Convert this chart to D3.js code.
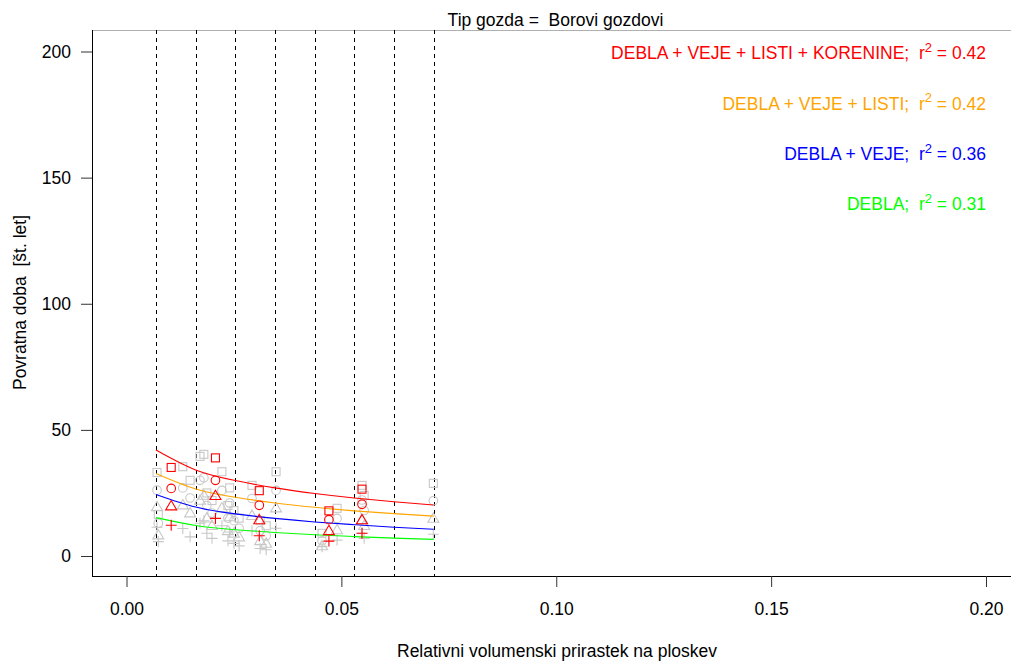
<!DOCTYPE html>
<html>
<head>
<meta charset="utf-8">
<script src="https://cdn.jsdelivr.net/npm/d3@7"></script>
<style>
  html, body { margin: 0; padding: 0; background: #fff; }
  svg { display: block; font-family: "Liberation Sans", Arial, sans-serif; }
</style>
</head>
<body>
<svg id="chart" width="1011" height="664"></svg>
<script>
// Class boundaries (dashed verticals) on relative volume increment
const classBounds = [0.00686, 0.01609, 0.02532, 0.03455, 0.04378, 0.05301, 0.06224, 0.07147];

// Fitted return-period curves sampled at the class boundaries
const fitTotal = [42.0, 34.1, 29.9, 27.0, 24.8, 23.0, 21.5, 20.2];   // debla + veje + listi + korenine
const fitDVL   = [32.7, 26.6, 23.3, 21.0, 19.3, 17.9, 16.8, 15.8];   // debla + veje + listi
const fitDV    = [24.4, 19.4, 16.7, 14.9, 13.5, 12.4, 11.4, 10.6];   // debla + veje
const fitD     = [15.2, 12.1, 10.4,  9.3,  8.4,  7.7,  7.1,  6.6];   // debla

// Class means (red symbols)
const meanX     = [0.0104, 0.0207, 0.0309, 0.0471, 0.0548];
const meanTotal = [35.1, 38.9, 25.9, 17.9, 26.5];
const meanDVL   = [26.8, 30.0, 20.1, 14.4, 20.5];
const meanDV    = [19.8, 23.9, 14.3, 10.0, 14.3];
const meanD     = [12.2, 14.9,  8.0,  5.9,  9.0];

// Individual stands (grey symbols)
const obsX     = [0.0071, 0.0074, 0.0131, 0.0148, 0.0171, 0.0180, 0.0187, 0.0199, 0.0222, 0.0236, 0.0250, 0.0292, 0.0311, 0.0325, 0.0348, 0.0455, 0.0490, 0.0548, 0.0553, 0.0714, 0.0240, 0.0262];
const obsTotal = [33.1, 16.5, 35.4, 30.0, 39.5, 40.3, 25.0, 22.0, 33.4, 20.0, 18.0, 28.0, 14.0, 12.0, 33.4,  9.0, 18.9, 28.0, 24.0, 28.8, 27.0, 15.0];
const obsDVL   = [26.1, 13.0, 27.0, 23.0, 30.0, 31.0, 20.0, 17.0, 26.0, 15.0, 14.0, 22.8, 10.0,  8.0, 26.0,  6.0, 14.9, 22.2, 18.0, 21.9, 21.0, 11.0];
const obsDV    = [19.5,  8.3, 20.2, 17.0, 22.0, 24.0, 15.0, 12.0, 19.0, 10.0,  9.0, 16.0,  6.0,  5.0, 19.0,  4.0, 10.3, 14.3, 12.0, 14.9, 15.5,  7.5];
const obsD     = [11.4,  5.7, 10.9,  7.6, 13.0, 14.0,  9.0,  7.0, 12.0,  6.0,  5.0, 10.0,  3.0,  2.5, 11.0,  3.7,  6.3,  9.0,  7.0,  8.6,  9.5,  4.0];

const xTicks = [0.00, 0.05, 0.10, 0.15, 0.20];
const yTicks = [0, 50, 100, 150, 200];

const legendLabels = ["DEBLA + VEJE + LISTI + KORENINE;", "DEBLA + VEJE + LISTI;", "DEBLA + VEJE;", "DEBLA;"];
const legendR2     = ["0.42", "0.42", "0.36", "0.31"];
const seriesColors = ["#ff0000", "#ffa500", "#0000ff", "#00ff00"];

const FONT = 17.5;
const svg = d3.select("#chart");
const panel = { left: 92, right: 1011, top: 30, bottom: 576 };

const x = d3.scaleLinear().domain([0, 0.2]).range([126.5, 986]);
const y = d3.scaleLinear().domain([0, 200]).range([556, 51.5]);

// Panel frame: grey top, black left and bottom
svg.append("line").attr("x1", panel.left).attr("x2", panel.right)
  .attr("y1", panel.top + 0.5).attr("y2", panel.top + 0.5)
  .attr("stroke", "#b0b0b0").attr("stroke-width", 1);
svg.append("line").attr("x1", panel.left + 0.5).attr("x2", panel.left + 0.5)
  .attr("y1", panel.top).attr("y2", panel.bottom)
  .attr("stroke", "#000").attr("stroke-width", 1);
svg.append("line").attr("x1", panel.left).attr("x2", panel.right)
  .attr("y1", panel.bottom + 0.5).attr("y2", panel.bottom + 0.5)
  .attr("stroke", "#000").attr("stroke-width", 1);

// Axes
const yAxis = svg.append("g").attr("transform", `translate(${panel.left},0)`)
  .call(d3.axisLeft(y).tickValues(yTicks).tickSize(11).tickPadding(10).tickSizeOuter(0).tickFormat(d3.format("d")));
const xAxis = svg.append("g").attr("transform", `translate(0,${panel.bottom})`)
  .call(d3.axisBottom(x).tickValues(xTicks).tickSize(11).tickPadding(15.5).tickSizeOuter(0).tickFormat(d3.format(".2f")));
[xAxis, yAxis].forEach(a => {
  a.select(".domain").remove();
  a.selectAll("line").attr("stroke", "#333");
  a.selectAll("text").attr("font-size", FONT).attr("fill", "#000")
    .attr("font-family", '"Liberation Sans", Arial, sans-serif');
});

// Class boundaries
svg.append("g").selectAll("line").data(classBounds).join("line")
  .attr("x1", d => Math.round(x(d)) + 0.5).attr("x2", d => Math.round(x(d)) + 0.5)
  .attr("y1", panel.top).attr("y2", panel.bottom)
  .attr("stroke", "#000").attr("stroke-width", 1).attr("stroke-dasharray", "4,4");

// Symbol drawing helpers (square, circle, triangle, plus)
function drawSymbols(g, xs, ys, shape, color) {
  const sel = g.append("g").attr("fill", "none").attr("stroke", color).attr("stroke-width", 1.1);
  xs.forEach((xv, i) => {
    const cx = x(xv), cy = y(ys[i]);
    if (shape === "square") {
      sel.append("rect").attr("x", cx - 4).attr("y", cy - 4).attr("width", 8).attr("height", 8);
    } else if (shape === "circle") {
      sel.append("circle").attr("cx", cx).attr("cy", cy).attr("r", 4.3);
    } else if (shape === "triangle") {
      sel.append("path").attr("d", `M${cx},${cy - 5.5}L${cx + 5.5},${cy + 3.8}L${cx - 5.5},${cy + 3.8}Z`);
    } else {
      sel.append("path").attr("d", `M${cx - 5.5},${cy}H${cx + 5.5}M${cx},${cy - 5.5}V${cy + 5.5}`);
    }
  });
}

const grey = "#c8c8c8";
const obsLayer = svg.append("g");
drawSymbols(obsLayer, obsX, obsTotal, "square", grey);
drawSymbols(obsLayer, obsX, obsDVL, "circle", grey);
drawSymbols(obsLayer, obsX, obsDV, "triangle", grey);
drawSymbols(obsLayer, obsX, obsD, "plus", grey);

// Fitted curves
const line = d3.line().x((d, i) => x(classBounds[i])).y(d => y(d)).curve(d3.curveNatural);
[fitTotal, fitDVL, fitDV, fitD].forEach((s, k) => {
  svg.append("path").attr("d", line(s)).attr("fill", "none")
    .attr("stroke", seriesColors[k]).attr("stroke-width", 1.1);
});

// Class means
const meanLayer = svg.append("g");
drawSymbols(meanLayer, meanX, meanTotal, "square", "#ff0000");
drawSymbols(meanLayer, meanX, meanDVL, "circle", "#ff0000");
drawSymbols(meanLayer, meanX, meanDV, "triangle", "#ff0000");
drawSymbols(meanLayer, meanX, meanD, "plus", "#ff0000");

// Legend with r²
const legendY = [59, 109.5, 160, 210];
legendLabels.forEach((lab, k) => {
  const t = svg.append("text").attr("x", 986).attr("y", legendY[k])
    .attr("text-anchor", "end").attr("font-size", FONT).attr("fill", seriesColors[k])
    .attr("xml:space", "preserve").style("white-space", "pre");
  t.append("tspan").text(lab + "  r");
  t.append("tspan").attr("dy", -7.5).attr("font-size", 13).text("2");
  t.append("tspan").attr("dy", 7.5).text(" = " + legendR2[k]);
});

// Strip title
svg.append("text").attr("x", 555.5).attr("y", 26).attr("text-anchor", "middle")
  .attr("font-size", FONT).style("white-space", "pre").text("Tip gozda =  Borovi gozdovi");

// Axis titles
svg.append("text").attr("x", 557).attr("y", 657).attr("text-anchor", "middle")
  .attr("font-size", FONT).text("Relativni volumenski prirastek na ploskev");
svg.append("text").attr("transform", "translate(25.5,302.5) rotate(-90)").attr("text-anchor", "middle")
  .attr("font-size", FONT).style("white-space", "pre").text("Povratna doba  [št. let]");
</script>
</body>
</html>
